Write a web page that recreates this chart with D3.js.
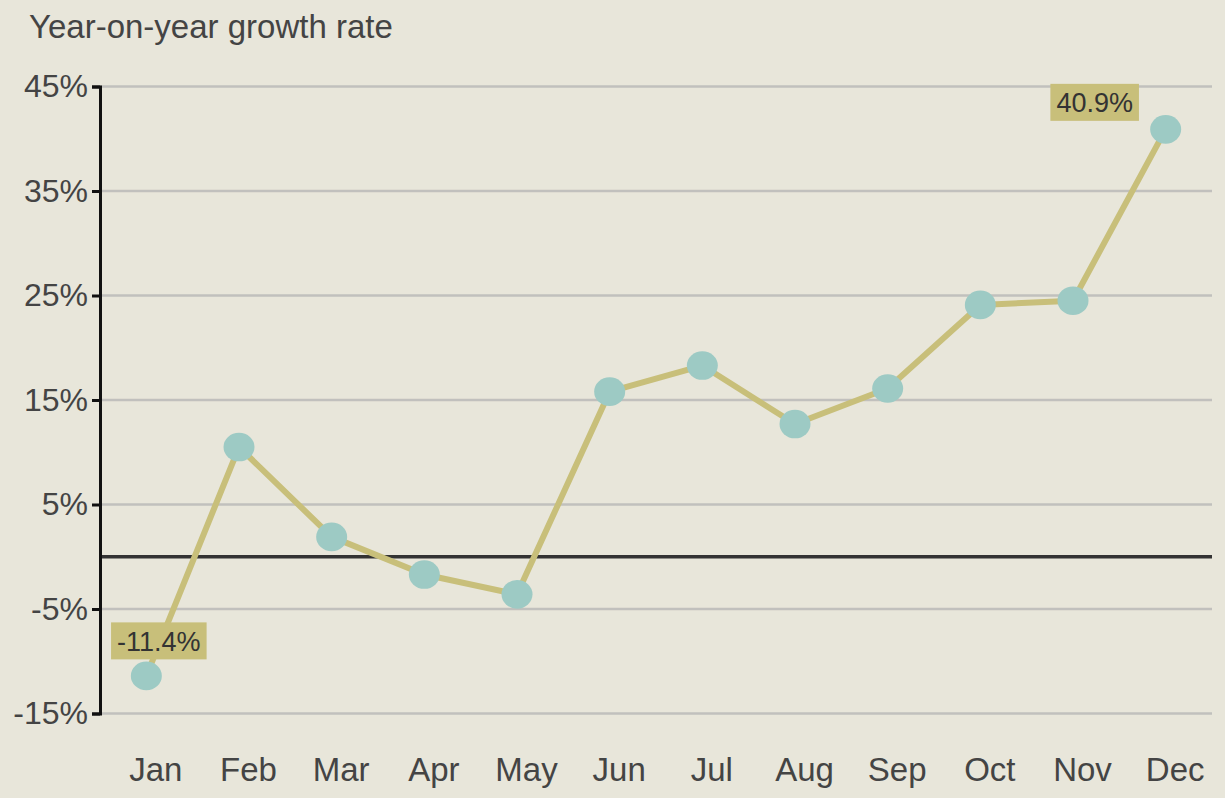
<!DOCTYPE html>
<html>
<head>
<meta charset="utf-8">
<script src="https://cdn.jsdelivr.net/npm/d3@7"></script>
<style>
  html, body { margin: 0; padding: 0; background: #e8e6da; }
  svg { display: block; font-family: 'Liberation Sans', Arial, sans-serif; }
</style>
</head>
<body>
<div id="chart"></div>
<script>
const months = ['Jan', 'Feb', 'Mar', 'Apr', 'May', 'Jun', 'Jul', 'Aug', 'Sep', 'Oct', 'Nov', 'Dec']
const growth = [-11.4, 10.5, 1.9, -1.7, -3.6, 15.8, 18.3, 12.7, 16.1, 24.1, 24.5, 40.9]
const yTicks = [-15, -5, 5, 15, 25, 35, 45]
const labelled = ['Jan', 'Dec']

const W = 1225
const H = 798
const MARGIN = { LEFT: 100, RIGHT: 13, TOP: 87, BOTTOM: 85 }

const data = months.map((m, i) => ({ month: m, value: growth[i] }))

const svg = d3.select('#chart')
  .append('svg')
  .attr('width', W)
  .attr('height', H)

svg.append('rect')
  .attr('width', W)
  .attr('height', H)
  .attr('fill', '#e8e6da')

const x = d3.scalePoint()
  .domain(months)
  .range([MARGIN.LEFT, W - MARGIN.RIGHT])
  .padding(0.5)

const y = d3.scaleLinear()
  .domain([-15, 45])
  .range([H - MARGIN.BOTTOM + 0.5, MARGIN.TOP - 0.5])

// title
svg.append('text')
  .attr('x', 29)
  .attr('y', 37.5)
  .attr('font-size', '33px')
  .attr('fill', '#444')
  .text('Year-on-year growth rate')

// gridlines
svg.append('g')
  .selectAll('line')
  .data(yTicks)
  .enter()
  .append('line')
  .attr('x1', MARGIN.LEFT)
  .attr('x2', W - MARGIN.RIGHT)
  .attr('y1', d => y(d))
  .attr('y2', d => y(d))
  .attr('stroke', '#c1c0bd')
  .attr('stroke-width', 2.5)

// zero line
svg.append('line')
  .attr('x1', MARGIN.LEFT)
  .attr('x2', W - MARGIN.RIGHT)
  .attr('y1', y(0))
  .attr('y2', y(0))
  .attr('stroke', '#333')
  .attr('stroke-width', 3.5)

// y axis
const yAxis = svg.append('g')
  .attr('transform', `translate(${MARGIN.LEFT}, 0)`)
  .call(d3.axisLeft(y).tickValues(yTicks).tickSize(8).tickPadding(4).tickFormat(d => d + '%'))
yAxis.select('.domain').attr('stroke', '#111').attr('stroke-width', 3)
yAxis.selectAll('.tick line').attr('stroke', '#111').attr('stroke-width', 3)
yAxis.selectAll('.tick text')
  .attr('font-size', '32px')
  .attr('fill', '#444')
  .attr('font-family', "'Liberation Sans', Arial, sans-serif")

// x axis labels
const xAxis = svg.append('g')
  .attr('transform', `translate(0, ${H - MARGIN.BOTTOM})`)
  .call(d3.axisBottom(x).tickSize(0).tickPadding(45))
xAxis.select('.domain').remove()
xAxis.selectAll('.tick text')
  .attr('font-size', '33px')
  .attr('fill', '#444')
  .attr('dx', 9)
  .attr('font-family', "'Liberation Sans', Arial, sans-serif")

// line
const line = d3.line()
  .x(d => x(d.month))
  .y(d => y(d.value))

svg.append('path')
  .datum(data)
  .attr('d', line)
  .attr('fill', 'none')
  .attr('stroke', '#c8bf7a')
  .attr('stroke-width', 6)
  .attr('stroke-linejoin', 'round')

// points
svg.append('g')
  .selectAll('ellipse')
  .data(data)
  .enter()
  .append('ellipse')
  .attr('cx', d => x(d.month))
  .attr('cy', d => y(d.value))
  .attr('rx', 15.5)
  .attr('ry', 14.3)
  .attr('fill', '#9dcac4')

// value labels (box offset relative to its point)
const labelOffset = { Jan: { dx: 12.5, dy: -35 }, Dec: { dx: -71, dy: -27 } }
const notes = svg.append('g')
  .selectAll('g')
  .data(data.filter(d => labelled.includes(d.month)))
  .enter()
  .append('g')
  .attr('transform', d => `translate(${x(d.month) + labelOffset[d.month].dx}, ${y(d.value) + labelOffset[d.month].dy})`)

notes.append('rect')
  .attr('fill', '#c8bf7a')

notes.append('text')
  .attr('text-anchor', 'middle')
  .attr('dy', '0.36em')
  .attr('font-size', '27px')
  .attr('fill', '#333')
  .text(d => d.value.toFixed(1) + '%')

notes.each(function () {
  const g = d3.select(this)
  const b = g.select('text').node().getBBox()
  g.select('rect')
    .attr('x', -b.width / 2 - 6)
    .attr('y', -18.5)
    .attr('width', b.width + 12)
    .attr('height', 37)
})
</script>
</body>
</html>
